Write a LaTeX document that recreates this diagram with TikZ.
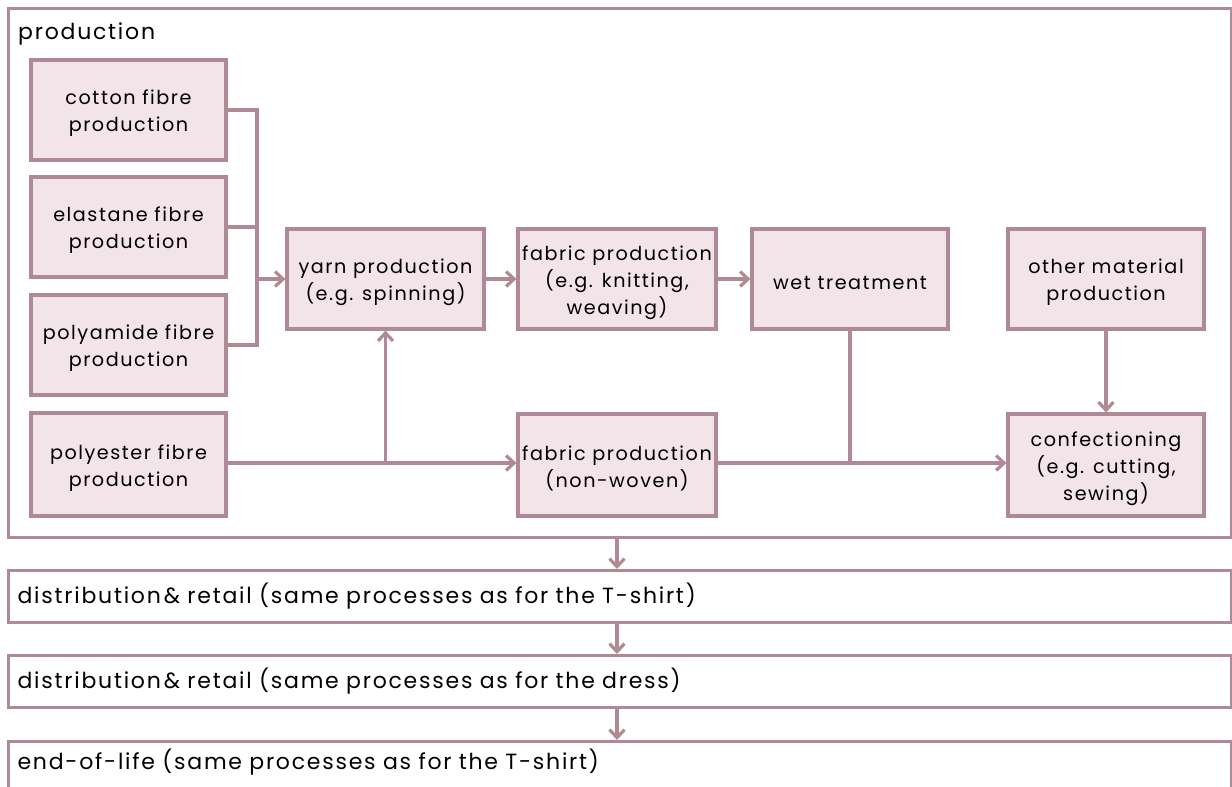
\documentclass[tikz,border=0pt]{standalone}
\usepackage{fontspec}
\setmainfont{Poppins}[LetterSpace=8]
\usetikzlibrary{arrows.meta}
\definecolor{edgec}{HTML}{B08A93}
\definecolor{fillc}{HTML}{F2E4E8}
\begin{document}
\begin{tikzpicture}[x=1pt,y=-1pt,
  every node/.style={font=\fontsize{19.2}{27}\selectfont},
  big/.style={font=\fontsize{22}{27}\selectfont},
  struts/.style 2 args={execute at begin node={\rule{0pt}{#1}}, execute at end node={\rule[-#2]{0pt}{0pt}}},
  box/.style={draw=edgec, fill=fillc, line width=3.2pt, inner sep=0pt},
  textlab/.style={align=center, inner sep=0pt, yshift=-3.5pt},
  frame/.style={draw=edgec, line width=3.2pt, inner sep=0pt},
  bar/.style={big, draw=edgec, fill=white, line width=3.2pt, anchor=north west, minimum height=52pt, text width=1205pt, inner xsep=9pt, inner ysep=0pt, align=left},
  line/.style={draw=edgec, line width=3.2pt},
  arr/.style={line, -{Straight Barb[length=8pt,width=15pt,line width=3.2pt]}}]
\useasboundingbox (0,0) rectangle (1232,787);
\clip (0,0) rectangle (1232,787);
\node[frame, anchor=north west, minimum width=1223pt, minimum height=529pt] (prod) at (7,7) {};
\node[big, anchor=base west, inner sep=0pt] (ptitle) at (18,39.3) {production};
\node[box, minimum width=195pt, minimum height=100pt, label={[textlab]center:cotton fibre\\production}] (cotton) at (128.5,110) {};
\node[box, minimum width=195pt, minimum height=100pt, label={[textlab]center:elastane fibre\\production}] (elastane) at (128.5,227) {};
\node[box, minimum width=195pt, minimum height=100pt, label={[textlab]center:polyamide fibre\\production}] (polyamide) at (128.5,345) {};
\node[box, minimum width=195pt, minimum height=103pt, label={[textlab]center:polyester fibre\\production}] (polyester) at (128.5,464.5) {};
\node[box, minimum width=197pt, minimum height=100pt, label={[textlab]center:yarn production\\(e.g. spinning)}] (yarn) at (385.5,279) {};
\node[box, minimum width=198pt, minimum height=100pt, label={[textlab]center:fabric production\\(e.g. knitting,\\weaving)}] (fabric) at (617,279) {};
\node[box, minimum width=196pt, minimum height=100pt, label={[textlab]center:wet treatment}] (wet) at (850,279) {};
\node[box, minimum width=196pt, minimum height=100pt, label={[textlab]center:other material\\production}] (other) at (1106,279) {};
\node[box, minimum width=198pt, minimum height=102pt, label={[textlab]center:fabric production\\(non-woven)}] (nonwoven) at (617,465) {};
\node[box, minimum width=196pt, minimum height=102pt, label={[textlab]center:confectioning\\(e.g. cutting,\\sewing)}] (conf) at (1106,465) {};
\node[bar, struts={18pt}{6pt}] (d1) at (7,569) {distribution\kern3pt\& retail (same processes as for the T-shirt)};
\node[bar, struts={18pt}{6pt}] (d2) at (7,654) {distribution\kern3pt\& retail (same processes as for the dress)};
\node[bar, struts={17.6pt}{17pt}] (d3) at (7,740) {end-of-life (same processes as for the T-shirt)};
\coordinate (bx) at (257,0);
\coordinate (jy) at (0,463);
\draw[line] (cotton.east) -- (cotton.east -| bx) -- (polyamide.east -| bx) -- (polyamide.east);
\draw[line] (elastane.east) -- (elastane.east -| bx);
\draw[arr] (yarn.west -| bx) -- (yarn.west);
\draw[arr] (yarn) -- (fabric);
\draw[arr] (fabric) -- (wet);
\draw[arr] (polyester.east |- jy) -- (nonwoven.west |- jy);
\draw[arr] (yarn.south |- jy) -- (yarn.south);
\draw[arr] (nonwoven.east |- jy) -- (conf.west |- jy);
\draw[line] (wet.south) -- (wet.south |- jy);
\draw[arr] (other) -- (conf);
\draw[arr] (prod.south -| nonwoven) -- (d1.north -| nonwoven);
\draw[arr] (d1.south -| nonwoven) -- (d2.north -| nonwoven);
\draw[arr] (d2.south -| nonwoven) -- (d3.north -| nonwoven);
\end{tikzpicture}
\end{document}
